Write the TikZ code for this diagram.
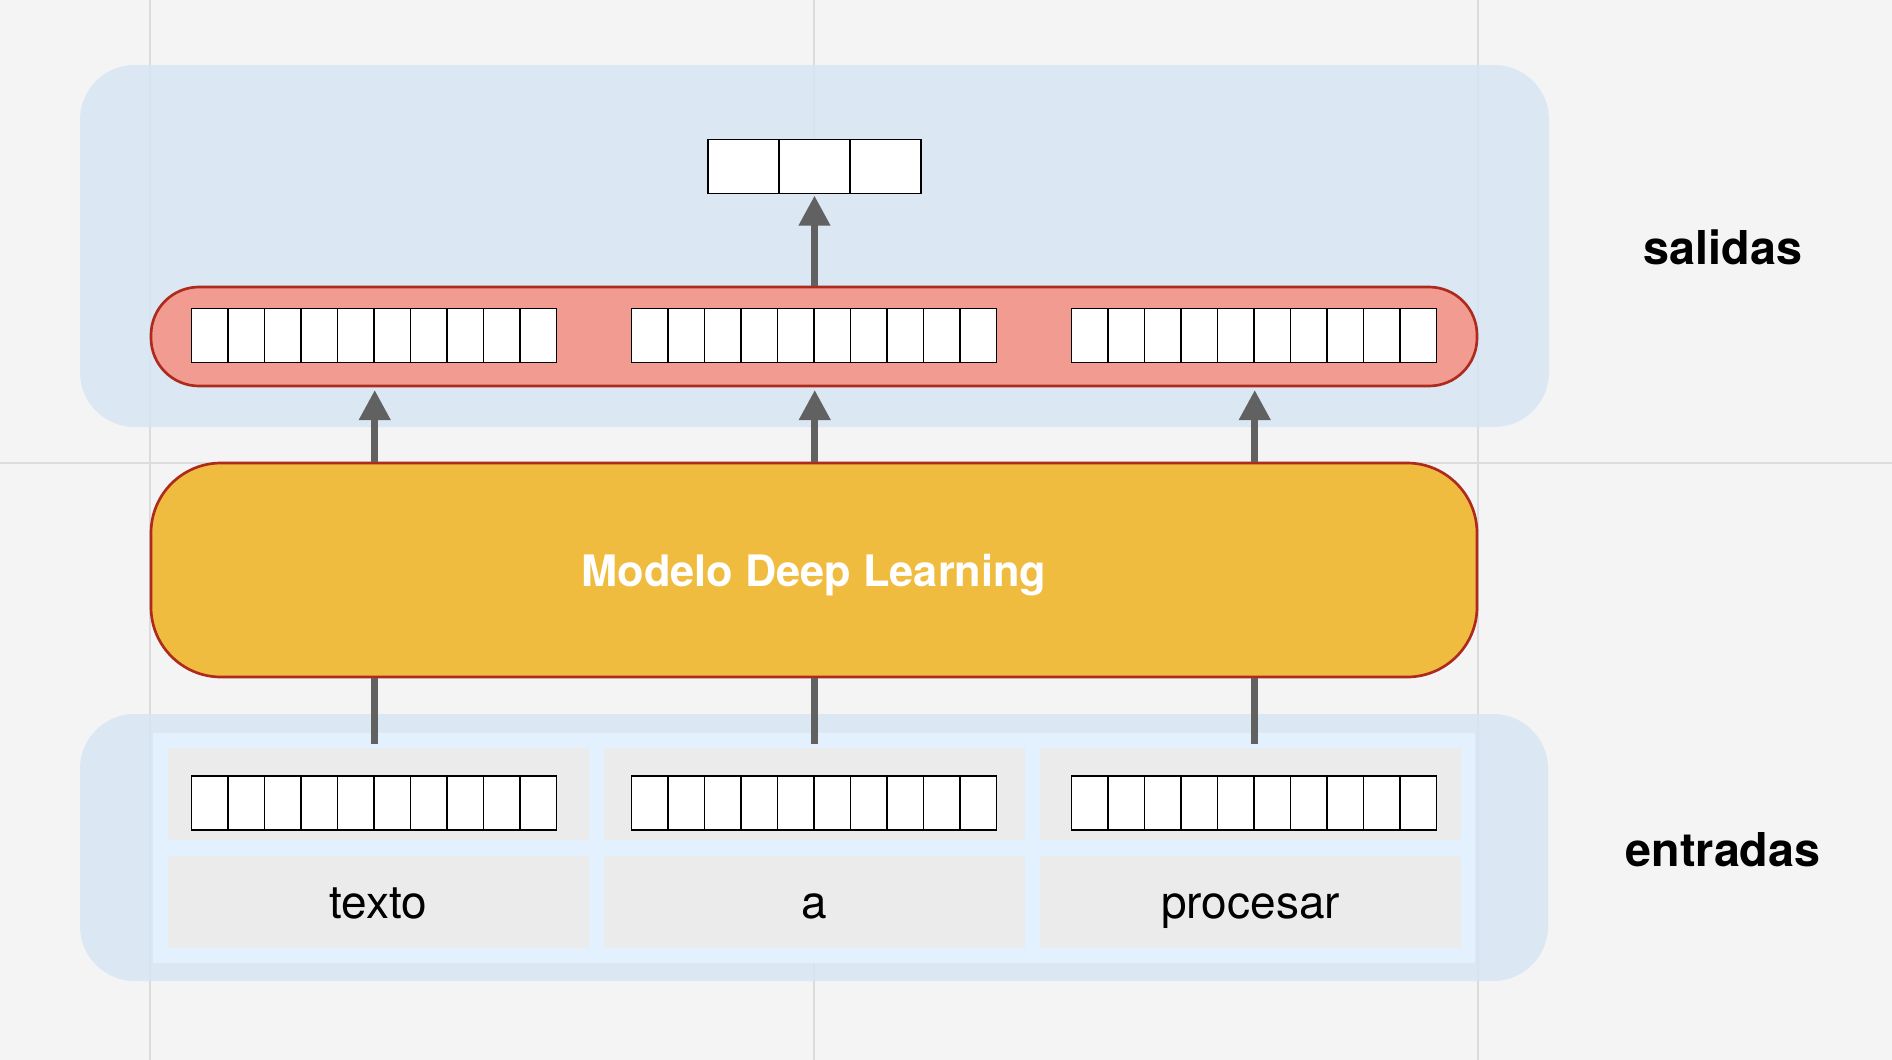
\documentclass[tikz,border=0pt]{standalone}
\usepackage{fontspec}
\setmainfont{TeX Gyre Heros}
\usepackage{tikz}
\usetikzlibrary{arrows.meta}

% row of cells: name, centre x, centre y, number of cells, cell width
\newcommand{\cellrow}[5]{%
  \foreach \k in {1,...,#4}
    \node[vcell, minimum width=#5*0.75pt] (#1\k) at ({#2+(\k-(#4+1)/2)*#5},#3) {};
}

\begin{document}
\begin{tikzpicture}[x=0.75pt,y=0.75pt,yscale=-1,xscale=1,
  vcell/.style={draw=black,fill=white,line width=1.1pt,minimum height=40.5pt,inner sep=0pt},
  slot/.style={fill={rgb,255:red,235;green,235;blue,235},minimum width=315.75pt,minimum height=69pt,inner sep=0pt,
    font=\fontsize{34.5}{40}\selectfont,text height=27.6pt,text depth=3.45pt},
  gridline/.style={draw={rgb,255:red,220;green,220;blue,220},line width=1.5pt},
  region/.style={fill={rgb,255:red,213;green,229;blue,245},fill opacity=0.8,rounded corners=41pt},
  arrowup/.style={draw={rgb,255:red,97;green,97;blue,97},line width=5.25pt,-{Triangle[length=22.5pt,width=22.5pt]}},
  link/.style={draw={rgb,255:red,97;green,97;blue,97},line width=5.25pt},
  sidelabel/.style={anchor=base,font=\bfseries\fontsize{35}{40}\selectfont}
]

\fill[color={rgb,255:red,244;green,244;blue,244}] (0,0) rectangle (1892,1060);
\useasboundingbox (0,0) rectangle (1892,1060);

% guide lines
\draw[gridline] (150,0) -- (150,1060);
\draw[gridline] (814,0) -- (814,1060);
\draw[gridline] (1478,0) -- (1478,1060);
\draw[gridline] (0,463) -- (1892,463);

% blue areas
\fill[region] (80,65) rectangle (1549,427);
\fill[region] (80,714) rectangle (1548,981);
\fill[color={rgb,255:red,227;green,240;blue,253}] (153,733) rectangle (1475,963);

% inputs
\node[slot] (slotA) at (378.5,794) {};
\node[slot] (slotB) at (814,794) {};
\node[slot] (slotC) at (1250.5,794) {};
\node[slot] (wordA) at (378.5,902) {texto};
\node[slot] (wordB) at (814,902) {a};
\node[slot] (wordC) at (1250.5,902) {procesar};
\cellrow{embA}{374}{803}{10}{36.5}
\cellrow{embB}{814}{803}{10}{36.5}
\cellrow{embC}{1254}{803}{10}{36.5}

% model
\node[draw={rgb,255:red,174;green,42;blue,28},line width=2pt,fill={rgb,255:red,240;green,188;blue,64},
  rounded corners=52.5pt,minimum width=994.5pt,minimum height=160.5pt,text=white,
  font=\bfseries\fontsize{32.5}{38}\selectfont,text height=25.35pt,text depth=0pt] (model) at (814,570) {Modelo Deep Learning};

% outputs
\node[draw={rgb,255:red,174;green,42;blue,28},line width=2pt,fill={rgb,255:red,242;green,155;blue,145},
  rounded corners=36pt,minimum width=994.5pt,minimum height=74.25pt] (caps) at (814,336.5) {};
\cellrow{hidA}{374}{335.5}{10}{36.5}
\cellrow{hidB}{814}{335.5}{10}{36.5}
\cellrow{hidC}{1254}{335.5}{10}{36.5}
\cellrow{outv}{814.5}{166.5}{3}{71}

% connectors
\draw[link] ([yshift=-3pt]slotA.north -| embA5.east) -- (model.south -| embA5.east);
\draw[link] ([yshift=-3pt]slotB.north -| embB5.east) -- (model.south -| embB5.east);
\draw[link] ([yshift=-3pt]slotC.north -| embC5.east) -- (model.south -| embC5.east);
\draw[arrowup,shorten >=2pt] (model.north -| hidA5.east) -- (caps.south -| hidA5.east);
\draw[arrowup,shorten >=2pt] (model.north -| hidB5.east) -- (caps.south -| hidB5.east);
\draw[arrowup,shorten >=2pt] (model.north -| hidC5.east) -- (caps.south -| hidC5.east);
\draw[arrowup,shorten >=1pt] (caps.north -| outv2) -- (outv2.south);

% labels
\node[sidelabel] (lblout) at (1723,264) {salidas};
\node[sidelabel] (lblin) at (1723,866) {entradas};

\end{tikzpicture}
\end{document}
